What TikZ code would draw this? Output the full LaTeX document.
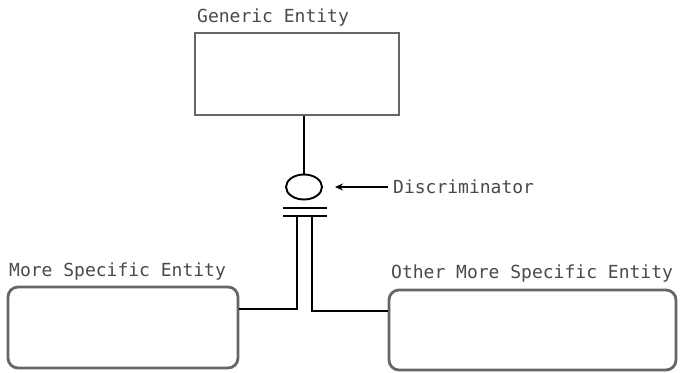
\documentclass[tikz,border=0pt]{standalone}
\usepackage{fontspec}
\setmonofont{DejaVu Sans Mono}
\usetikzlibrary{shapes.geometric,arrows.meta}
\definecolor{boxgray}{HTML}{666666}
\definecolor{textgray}{HTML}{4A4A4A}
\newcommand{\tagfont}{\fontsize{18pt}{21pt}\selectfont\ttfamily}
\begin{document}
\begin{tikzpicture}[x=1pt,y=-1pt,
  entity/.style={draw=boxgray,line width=2.8pt,fill=white,inner sep=0pt},
  nametag/.style={anchor=base west,inner sep=0pt,text=textgray,font=\tagfont},
  link/.style={draw=black,line width=1.9pt}]
  \useasboundingbox[fill=white] (0,0) rectangle (685,372);

  % entities
  \node[entity,minimum width=204pt,minimum height=82pt] (gen) at (297,74) {};
  \node[entity,rounded corners=10pt,minimum width=230pt,minimum height=81pt] (left) at (123,327.5) {};
  \node[entity,rounded corners=10pt,minimum width=287pt,minimum height=80pt] (right) at (532.5,330) {};

  % entity names
  \node[nametag] (tgen) at (197,22) {Generic Entity};
  \node[nametag] (tleft) at (9,276) {More Specific Entity};
  \node[nametag] (tright) at (391,278) {Other More Specific Entity};

  % discriminator
  \node[draw=black,line width=1.9pt,ellipse,minimum width=36pt,minimum height=25pt,inner sep=0pt] (disc) at (304,187) {};
  \node[nametag] (tdisc) at (393,193) {Discriminator};
  \coordinate (ta) at (388,187);
  \draw[link,shorten >=12pt,-{Stealth[length=8pt,width=7pt]}] (ta) -- (disc.east);

  \draw[link] (gen.south -| disc.north) -- (disc.north);

  % double bar below the discriminator
  \coordinate (b1l) at (283,208);
  \coordinate (b1r) at (327,208);
  \coordinate (b2l) at (283,216);
  \coordinate (b2r) at (327,216);
  \draw[link] (b1l) -- (b1r);
  \draw[link] (b2l) -- (b2r);

  % branches to the specific entities
  \coordinate (sl) at (297,216);
  \coordinate (sr) at (312,216);
  \draw[link] (sl) |- (left.east |- 0,309);
  \draw[link] (sr) |- (right.west |- 0,311);
\end{tikzpicture}
\end{document}
